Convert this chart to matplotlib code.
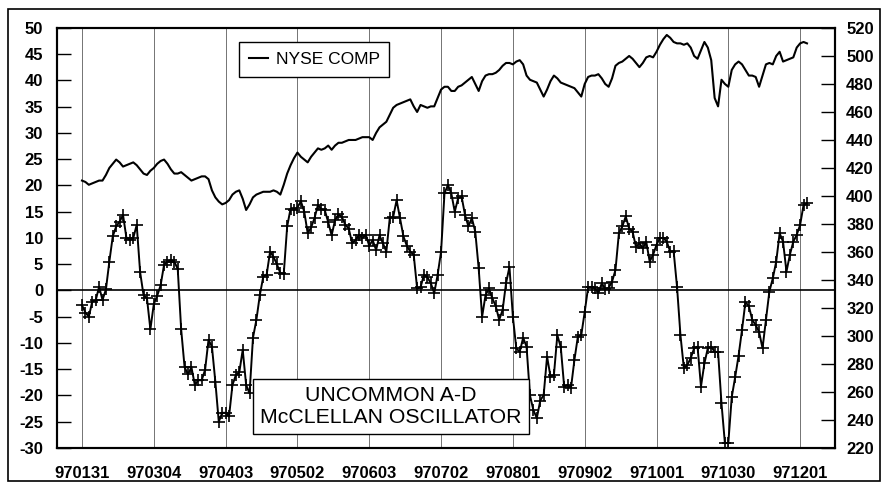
import matplotlib
matplotlib.use('Agg')
import matplotlib.pyplot as plt
import numpy as np
from matplotlib.patches import Rectangle

# ---- data ----
tick_labels = ['970131', '970304', '970403', '970502', '970603', '970702',
               '970801', '970902', '971001', '971030', '971201']

nyse_comp = [
    411, 410, 408, 409, 410, 411, 411, 415, 420, 423,
    426, 424, 421, 422, 423, 424, 422, 419, 416, 415,
    418, 420, 423, 425, 426, 423, 419, 416, 416, 417,
    415, 413, 411, 412, 413, 414, 414, 412, 404, 399,
    396, 394, 395, 397, 401, 403, 404, 398, 390, 394,
    399, 401, 402, 403, 403, 403, 404, 403, 401, 408,
    416, 422, 427, 431, 428, 426, 424, 428, 431, 434,
    433, 434, 436, 433, 436, 438, 438, 439, 440, 440,
    440, 441, 442, 442, 442, 440, 445, 449, 451, 453,
    458, 463, 465, 466, 467, 468, 469, 464, 460, 465,
    464, 463, 464, 464, 470, 476, 478, 478, 475, 475,
    478, 479, 481, 483, 485, 480, 475, 482, 486, 487,
    487, 488, 490, 493, 495, 495, 494, 496, 497, 494,
    486, 483, 482, 481, 476, 471, 476, 482, 486, 484,
    481, 480, 479, 478, 477, 474, 471, 480, 485, 486,
    486, 487, 484, 480, 478, 484, 493, 495, 496, 498,
    500, 498, 495, 492, 495, 499, 500, 499, 503, 508,
    512, 515, 513, 510, 509, 509, 508, 509, 506, 500,
    498, 504, 510, 506, 497, 470, 464, 483, 480, 478,
    490, 494, 496, 494, 490, 486, 486, 485, 478, 486,
    494, 495, 494, 500, 503, 496, 497, 498, 499, 506,
    509, 510, 509,
]

mcclellan = [
    -2.8, -4.2, -5.0, -2.1, -1.9, 0.7, -1.8, 0.2, 5.5, 10.3,
    12.2, 13.1, 14.4, 10.0, 9.6, 10.0, 12.5, 3.5, -0.9, -1.5,
    -7.4, -2.6, -1.0, 1.0, 4.9, 5.5, 5.8, 5.5, 4.1, -7.4,
    -14.6, -16.0, -14.6, -18.0, -17.1, -17.1, -15.1, -9.4, -10.7, -17.4,
    -25.0, -23.3, -23.3, -24.0, -18.0, -16.1, -15.6, -11.3, -18.0, -19.6,
    -9.0, -5.6, -0.9, 2.6, 3.0, 7.4, 6.4, 5.0, 3.3, 3.2,
    12.2, 15.6, 15.4, 15.8, 17.0, 15.0, 10.9, 12.0, 13.8, 16.3,
    15.5, 15.3, 13.0, 10.5, 13.4, 14.5, 14.0, 12.5, 11.8, 9.0,
    9.6, 10.6, 10.0, 10.6, 8.5, 9.6, 7.7, 10.5, 9.0, 7.4,
    13.8, 14.0, 17.2, 13.8, 10.3, 8.5, 7.4, 6.8, 0.4, 0.6,
    3.0, 2.5, 1.4, -0.5, 3.0, 7.4, 18.5, 20.1, 18.5, 15.0,
    17.6, 17.9, 14.4, 12.2, 13.8, 11.2, 4.2, -5.0, -0.9, 0.4,
    -1.5, -3.0, -5.6, -3.7, 1.4, 4.5, -5.0, -11.0, -11.7, -9.0,
    -10.7, -20.0, -22.8, -24.3, -21.0, -19.9, -12.6, -16.4, -16.1, -8.5,
    -10.8, -18.3, -18.0, -18.5, -13.2, -8.8, -8.5, -4.1, 0.6, 0.7,
    0.4, -0.5, 1.4, 0.3, 0.5, 1.7, 3.9, 10.9, 12.2, 14.1,
    11.8, 11.2, 8.3, 9.0, 8.0, 9.3, 5.5, 6.8, 8.7, 10.0,
    10.0, 9.3, 7.4, 7.5, 0.7, -8.5, -14.8, -14.2, -12.9, -11.0,
    -10.7, -18.3, -13.9, -11.0, -10.7, -11.7, -11.7, -21.5, -29.1, -29.0,
    -20.3, -16.5, -12.4, -7.5, -2.2, -3.0, -5.6, -6.6, -7.9, -11.0,
    -5.6, -0.2, 2.3, 5.5, 10.9, 9.3, 3.6, 6.8, 9.3, 10.6,
    12.5, 16.3, 16.6,
]

legend_label = 'NYSE COMP'
box_text = 'UNCOMMON A-D\nMcCLELLAN OSCILLATOR'

# ---- drawing ----
plt.rcParams['font.family'] = ['Liberation Sans', 'DejaVu Sans']
plt.rcParams['axes.unicode_minus'] = False

days_per_label = 21
fig = plt.figure(figsize=(8.84, 4.83), dpi=100)
ax = fig.add_axes([0.0645, 0.0725, 0.8801, 0.8696])
ax2 = ax.twinx()

x_osc = np.arange(len(mcclellan))
x_nyse = np.arange(len(nyse_comp))
tick_pos = np.arange(len(tick_labels)) * days_per_label

ax.set_xlim(-7.3, 220.2)
ax.set_ylim(-30, 50)
ax2.set_ylim(220, 520)

ax.set_xticks(tick_pos)
ax.set_xticklabels(tick_labels)
ax.set_yticks(np.arange(-30, 51, 5))
ax2.set_yticks(np.arange(220, 521, 20))

ax.xaxis.grid(True, color='0.45', lw=0.7)
ax.set_axisbelow(True)
ax.axhline(0, color='black', lw=1.2, zorder=2)

ax.plot(x_osc, mcclellan, color='black', lw=1.4, marker='+', ms=9,
        mew=1.2, zorder=3)
ax2.plot(x_nyse, nyse_comp, color='black', lw=1.5, label=legend_label)

for a in (ax, ax2):
    for s in a.spines.values():
        s.set_linewidth(1.5)

ax.tick_params(axis='y', direction='in', length=10, width=1, pad=10,
               labelsize=12)
ax.tick_params(axis='x', length=0, pad=13, labelsize=12)
ax2.tick_params(axis='y', direction='in', length=10, width=1, pad=8,
                labelsize=12)
for lab in ax.get_xticklabels() + ax.get_yticklabels() + ax2.get_yticklabels():
    lab.set_fontweight('bold')

leg = ax2.legend(loc='center', bbox_to_anchor=(0.3305, 0.925),
                 fontsize=12.5, frameon=True, fancybox=False,
                 edgecolor='black', framealpha=1, borderpad=0.55,
                 handlelength=1.1, handletextpad=0.45, borderaxespad=0)
leg.get_frame().set_linewidth(1.0)

ax.text(0.4295, 0.0985, box_text, transform=ax.transAxes, ha='center',
        va='center', fontsize=15.3, linespacing=1.22, zorder=10,
        bbox=dict(boxstyle='square,pad=0.33', fc='white', ec='black', lw=1.0))

fig.add_artist(Rectangle((8 / 884, 2 / 483), 872 / 884, 472 / 483,
                         transform=fig.transFigure, fill=False,
                         lw=1.2, ec='black'))

fig.savefig('out.png', dpi=100)
